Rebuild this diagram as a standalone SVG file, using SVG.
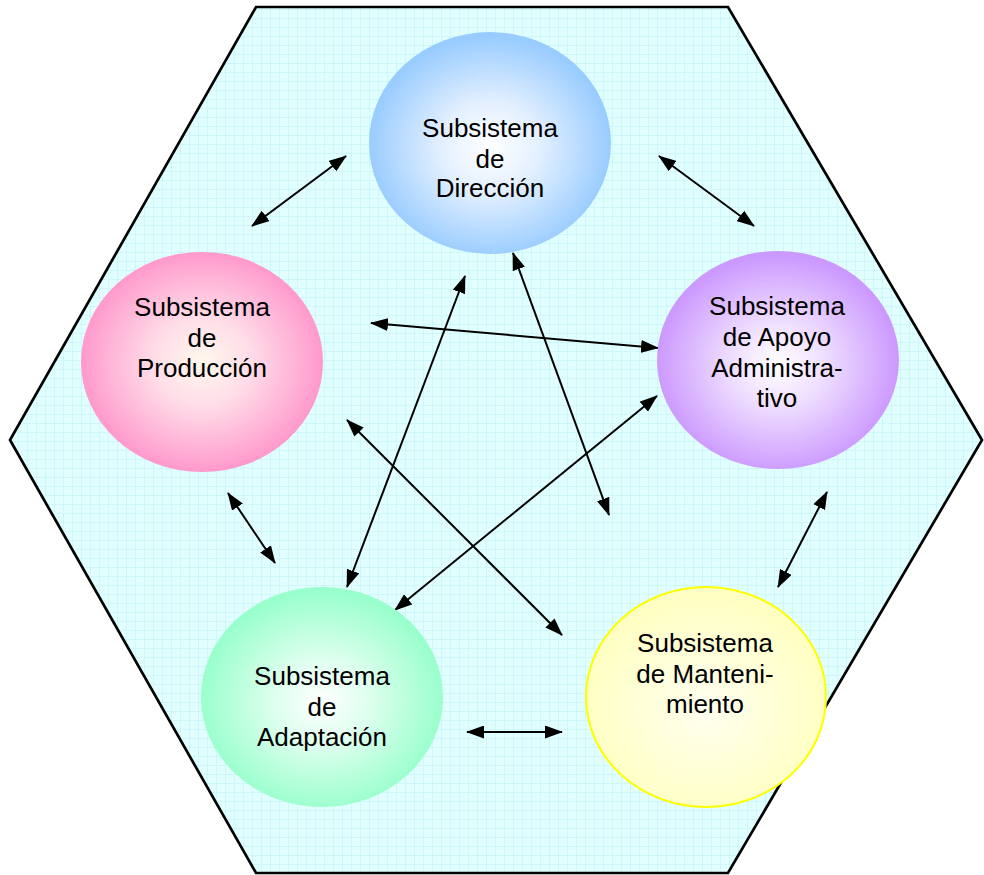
<svg xmlns="http://www.w3.org/2000/svg" width="984" height="875" viewBox="0 0 984 875">
  <style>
    .lbl { font-family: "Liberation Sans", Arial, sans-serif; font-size: 26px; fill: #000; text-anchor: middle; }
    .link { stroke: #000; stroke-width: 2; fill: none; marker-start: url(#tip); marker-end: url(#tip); }
  </style>
  <defs>
    <pattern id="grid" width="9" height="9" patternUnits="userSpaceOnUse">
      <rect width="9" height="9" fill="#E2FFFF"/>
      <path d="M0,0.5 H9 M0.5,0 V9" stroke="#CDF7F8" stroke-width="1"/>
      <rect x="4" y="4" width="1" height="1" fill="#D6F9F9"/>
    </pattern>
    <marker id="tip" viewBox="0 0 18 13" refX="17" refY="6.5" markerWidth="18" markerHeight="13" markerUnits="userSpaceOnUse" orient="auto-start-reverse">
      <path d="M0,0 L18,6.5 L0,13 z" fill="#000"/>
    </marker>
    <radialGradient id="gBlue" cx="50%" cy="52%" r="50%">
      <stop offset="0" stop-color="#FFFFFF"/>
      <stop offset="0.4" stop-color="#E4F0FF"/>
      <stop offset="1" stop-color="#99CCFF"/>
    </radialGradient>
    <radialGradient id="gPink" cx="50%" cy="50%" r="50%">
      <stop offset="0" stop-color="#FFF8EC"/>
      <stop offset="0.4" stop-color="#FFDDE8"/>
      <stop offset="1" stop-color="#FF99CC"/>
    </radialGradient>
    <radialGradient id="gPurple" cx="50%" cy="52%" r="50%">
      <stop offset="0" stop-color="#FFFFFF"/>
      <stop offset="0.4" stop-color="#EEDDFF"/>
      <stop offset="1" stop-color="#CC99FF"/>
    </radialGradient>
    <radialGradient id="gGreen" cx="50%" cy="52%" r="50%">
      <stop offset="0" stop-color="#FFFFFF"/>
      <stop offset="0.4" stop-color="#DDFFEE"/>
      <stop offset="1" stop-color="#99FFCC"/>
    </radialGradient>
    <radialGradient id="gYellow" cx="50%" cy="55%" r="50%">
      <stop offset="0" stop-color="#FFFFF0"/>
      <stop offset="1" stop-color="#FFFFC4"/>
    </radialGradient>
  </defs>

  <!-- hexagonal frame -->
  <polygon id="frame" points="256,7 728,7 982,440 728,873 256,873 10,440" fill="url(#grid)" stroke="#000" stroke-width="2.7" stroke-linejoin="miter"/>

  <!-- connectors -->
  <g id="connectors">
    <line class="link" x1="346" y1="156" x2="252" y2="226"/>
    <line class="link" x1="659" y1="156" x2="754" y2="226"/>
    <line class="link" x1="371" y1="323" x2="658" y2="348"/>
    <line class="link" x1="513" y1="253" x2="609" y2="515"/>
    <line class="link" x1="465" y1="276" x2="347" y2="587"/>
    <line class="link" x1="347" y1="420" x2="562" y2="635"/>
    <line class="link" x1="657" y1="396" x2="395" y2="610"/>
    <line class="link" x1="228" y1="493" x2="275" y2="563"/>
    <line class="link" x1="827" y1="492" x2="778" y2="587"/>
    <line class="link" x1="467" y1="732" x2="562" y2="732"/>
  </g>

  <g id="direccion">
    <ellipse cx="490" cy="143" rx="121" ry="111" fill="url(#gBlue)"/>
    <text class="lbl" x="490" y="137">Subsistema</text>
    <text class="lbl" x="490" y="168">de</text>
    <text class="lbl" x="490" y="197">Dirección</text>
  </g>

  <g id="produccion">
    <ellipse cx="202" cy="362" rx="121" ry="110" fill="url(#gPink)"/>
    <text class="lbl" x="202" y="316">Subsistema</text>
    <text class="lbl" x="202" y="347">de</text>
    <text class="lbl" x="202" y="377">Producción</text>
  </g>

  <g id="apoyo">
    <ellipse cx="778" cy="360" rx="121" ry="109" fill="url(#gPurple)"/>
    <text class="lbl" x="777" y="315">Subsistema</text>
    <text class="lbl" x="777" y="346">de Apoyo</text>
    <text class="lbl" x="777" y="377">Administra-</text>
    <text class="lbl" x="777" y="407">tivo</text>
  </g>

  <g id="mantenimiento">
    <ellipse cx="706" cy="697" rx="120" ry="110" fill="url(#gYellow)" stroke="#FFFF00" stroke-width="2"/>
    <text class="lbl" x="705" y="652">Subsistema</text>
    <text class="lbl" x="705" y="683">de Manteni-</text>
    <text class="lbl" x="705" y="713">miento</text>
  </g>

  <g id="adaptacion">
    <ellipse cx="322" cy="697" rx="121" ry="110" fill="url(#gGreen)"/>
    <text class="lbl" x="322" y="685">Subsistema</text>
    <text class="lbl" x="322" y="716">de</text>
    <text class="lbl" x="322" y="746">Adaptación</text>
  </g>
</svg>
